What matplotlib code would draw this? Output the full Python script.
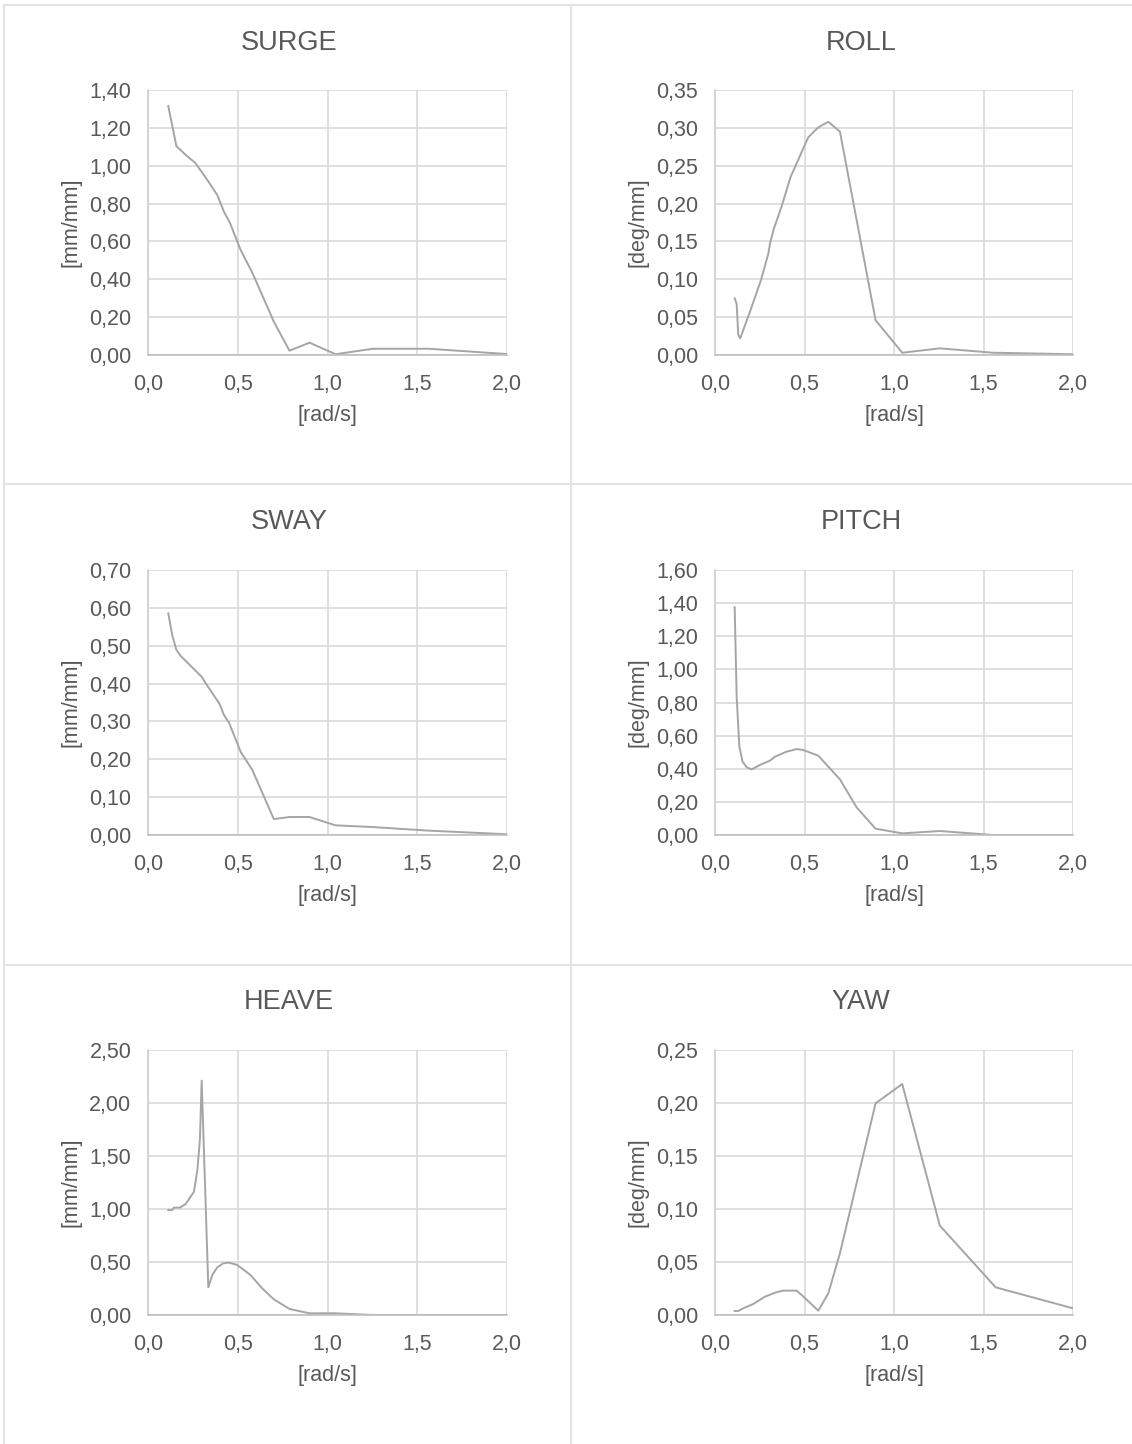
import matplotlib
matplotlib.use("Agg")
import matplotlib.pyplot as plt
from matplotlib.lines import Line2D
from matplotlib.ticker import FuncFormatter, MultipleLocator

plt.rcParams['font.family'] = ['Liberation Sans', 'DejaVu Sans']

# ---------------- data ----------------
surge_x = [0.113, 0.158, 0.21, 0.262, 0.302, 0.325, 0.386, 0.423, 0.456, 0.516, 0.581, 0.701, 0.788, 0.9, 1.045, 1.252, 1.564, 2.0]
surge_y = [1.315, 1.104, 1.057, 1.016, 0.963, 0.933, 0.845, 0.757, 0.699, 0.555, 0.435, 0.176, 0.023, 0.065, 0.004, 0.033, 0.033, 0.005]

roll_x = [0.11, 0.121, 0.13, 0.141, 0.195, 0.257, 0.298, 0.307, 0.329, 0.372, 0.422, 0.521, 0.577, 0.633, 0.698, 0.897, 1.046, 1.256, 1.553, 2.0]
roll_y = [0.0748, 0.0674, 0.0264, 0.022, 0.057, 0.099, 0.134, 0.147, 0.167, 0.196, 0.235, 0.2875, 0.3007, 0.308, 0.295, 0.046, 0.003, 0.0088, 0.003, 0.001]

sway_x = [0.113, 0.135, 0.158, 0.182, 0.299, 0.321, 0.399, 0.423, 0.451, 0.516, 0.581, 0.701, 0.788, 0.9, 1.045, 1.252, 1.564, 2.0]
sway_y = [0.5855, 0.528, 0.489, 0.473, 0.418, 0.401, 0.346, 0.317, 0.297, 0.220, 0.172, 0.042, 0.0475, 0.0475, 0.0255, 0.021, 0.0115, 0.002]

pitch_x = [0.11, 0.121, 0.136, 0.154, 0.177, 0.205, 0.251, 0.307, 0.335, 0.4, 0.456, 0.493, 0.577, 0.698, 0.791, 0.897, 1.046, 1.256, 1.553, 2.0]
pitch_y = [1.375, 0.835, 0.533, 0.443, 0.409, 0.396, 0.423, 0.449, 0.473, 0.503, 0.519, 0.513, 0.479, 0.336, 0.167, 0.038, 0.010, 0.024, 0.0, 0.0]

heave_x = [0.113, 0.135, 0.145, 0.178, 0.21, 0.256, 0.275, 0.289, 0.299, 0.336, 0.358, 0.386, 0.419, 0.451, 0.497, 0.571, 0.636, 0.701, 0.788, 0.9, 1.045, 1.252, 2.0]
heave_y = [0.99, 0.99, 1.013, 1.013, 1.047, 1.163, 1.368, 1.651, 2.211, 0.261, 0.377, 0.450, 0.487, 0.494, 0.472, 0.377, 0.252, 0.148, 0.057, 0.016, 0.016, 0.0, 0.0]

yaw_x = [0.11, 0.13, 0.158, 0.214, 0.279, 0.335, 0.378, 0.456, 0.484, 0.577, 0.633, 0.698, 0.897, 1.046, 1.256, 1.568, 2.0]
yaw_y = [0.0038, 0.0038, 0.0063, 0.0104, 0.0173, 0.021, 0.023, 0.023, 0.0189, 0.0041, 0.0204, 0.0582, 0.1997, 0.2179, 0.0843, 0.0261, 0.0063]

titles = ["SURGE", "ROLL", "SWAY", "PITCH", "HEAVE", "YAW"]
ylabels = ["[mm/mm]", "[deg/mm]", "[mm/mm]", "[deg/mm]", "[mm/mm]", "[deg/mm]"]
xlabel = "[rad/s]"
ymaxes = [1.40, 0.35, 0.70, 1.60, 2.50, 0.25]
ysteps = [0.20, 0.05, 0.10, 0.20, 0.50, 0.05]
series = [(surge_x, surge_y), (roll_x, roll_y), (sway_x, sway_y),
          (pitch_x, pitch_y), (heave_x, heave_y), (yaw_x, yaw_y)]

# ---------------- layout ----------------
W, H = 1132, 1444
fig = plt.figure(figsize=(W / 100, H / 100), dpi=100)

TXT = "#595959"
GRID = "#D9D9D9"
LINE = "#A5A5A5"

col_left = [148, 715]
col_right = [507, 1073]
row_top = [90, 570, 1050]
row_bot = [355, 835, 1315]
title_x = [289, 861]
title_y = [43, 522, 1002]
ylab_x = [71, 638]
xlab_y = [415, 895, 1375]

def fx(px):
    return px / W

def fy(py):
    return 1 - py / H

fmt_y = FuncFormatter(lambda v, p: f"{v:.2f}".replace(".", ","))
fmt_x = FuncFormatter(lambda v, p: f"{v:.1f}".replace(".", ","))

for i in range(6):
    r, c = divmod(i, 2)
    l, rr = col_left[c], col_right[c]
    t, b = row_top[r], row_bot[r]
    ax = fig.add_axes([fx(l), fy(b), fx(rr - l), (b - t) / H])
    x, y = series[i]
    ax.plot(x, y, color=LINE, lw=1.4, solid_joinstyle='round')
    ax.set_xlim(0, 2.0)
    ax.set_ylim(0, ymaxes[i])
    ax.xaxis.set_major_locator(MultipleLocator(0.5))
    ax.yaxis.set_major_locator(MultipleLocator(ysteps[i]))
    ax.xaxis.set_major_formatter(fmt_x)
    ax.yaxis.set_major_formatter(fmt_y)
    ax.grid(True, color=GRID, lw=1.2)
    ax.set_axisbelow(True)
    for s in ["top", "right"]:
        ax.spines[s].set_visible(False)
    ax.spines["left"].set_color("#D0D0D0")
    ax.spines["left"].set_linewidth(1.2)
    ax.spines["bottom"].set_color("#BFBFBF")
    ax.spines["bottom"].set_linewidth(1.2)
    ax.tick_params(length=0, labelsize=15.5, colors=TXT)
    ax.tick_params(axis="y", pad=12)
    ax.tick_params(axis="x", pad=13.5)
    ax.patch.set_visible(False)

    fig.text(fx(title_x[c]), fy(title_y[r]), titles[i], ha="center", va="center",
             fontsize=19.5, color=TXT)
    fig.text(fx((l + rr) / 2), fy(xlab_y[r]), xlabel, ha="center", va="center",
             fontsize=15.5, color=TXT)
    fig.text(fx(ylab_x[c]), fy((t + b) / 2), ylabels[i], ha="center", va="center",
             rotation=90, fontsize=15.5, color=TXT)

# panel borders
def hline(y, x0, x1):
    fig.add_artist(Line2D([fx(x0), fx(x1)], [fy(y), fy(y)], color="#E3E3E3", lw=1.5))

def vline(x, y0, y1):
    fig.add_artist(Line2D([fx(x), fx(x)], [fy(y0), fy(y1)], color="#E3E3E3", lw=1.5))

hline(5, 4, W)
hline(484, 4, W)
hline(965, 4, W)
vline(4, 5, H)
vline(571, 5, H)

fig.savefig("out.png", dpi=100, facecolor="white")
